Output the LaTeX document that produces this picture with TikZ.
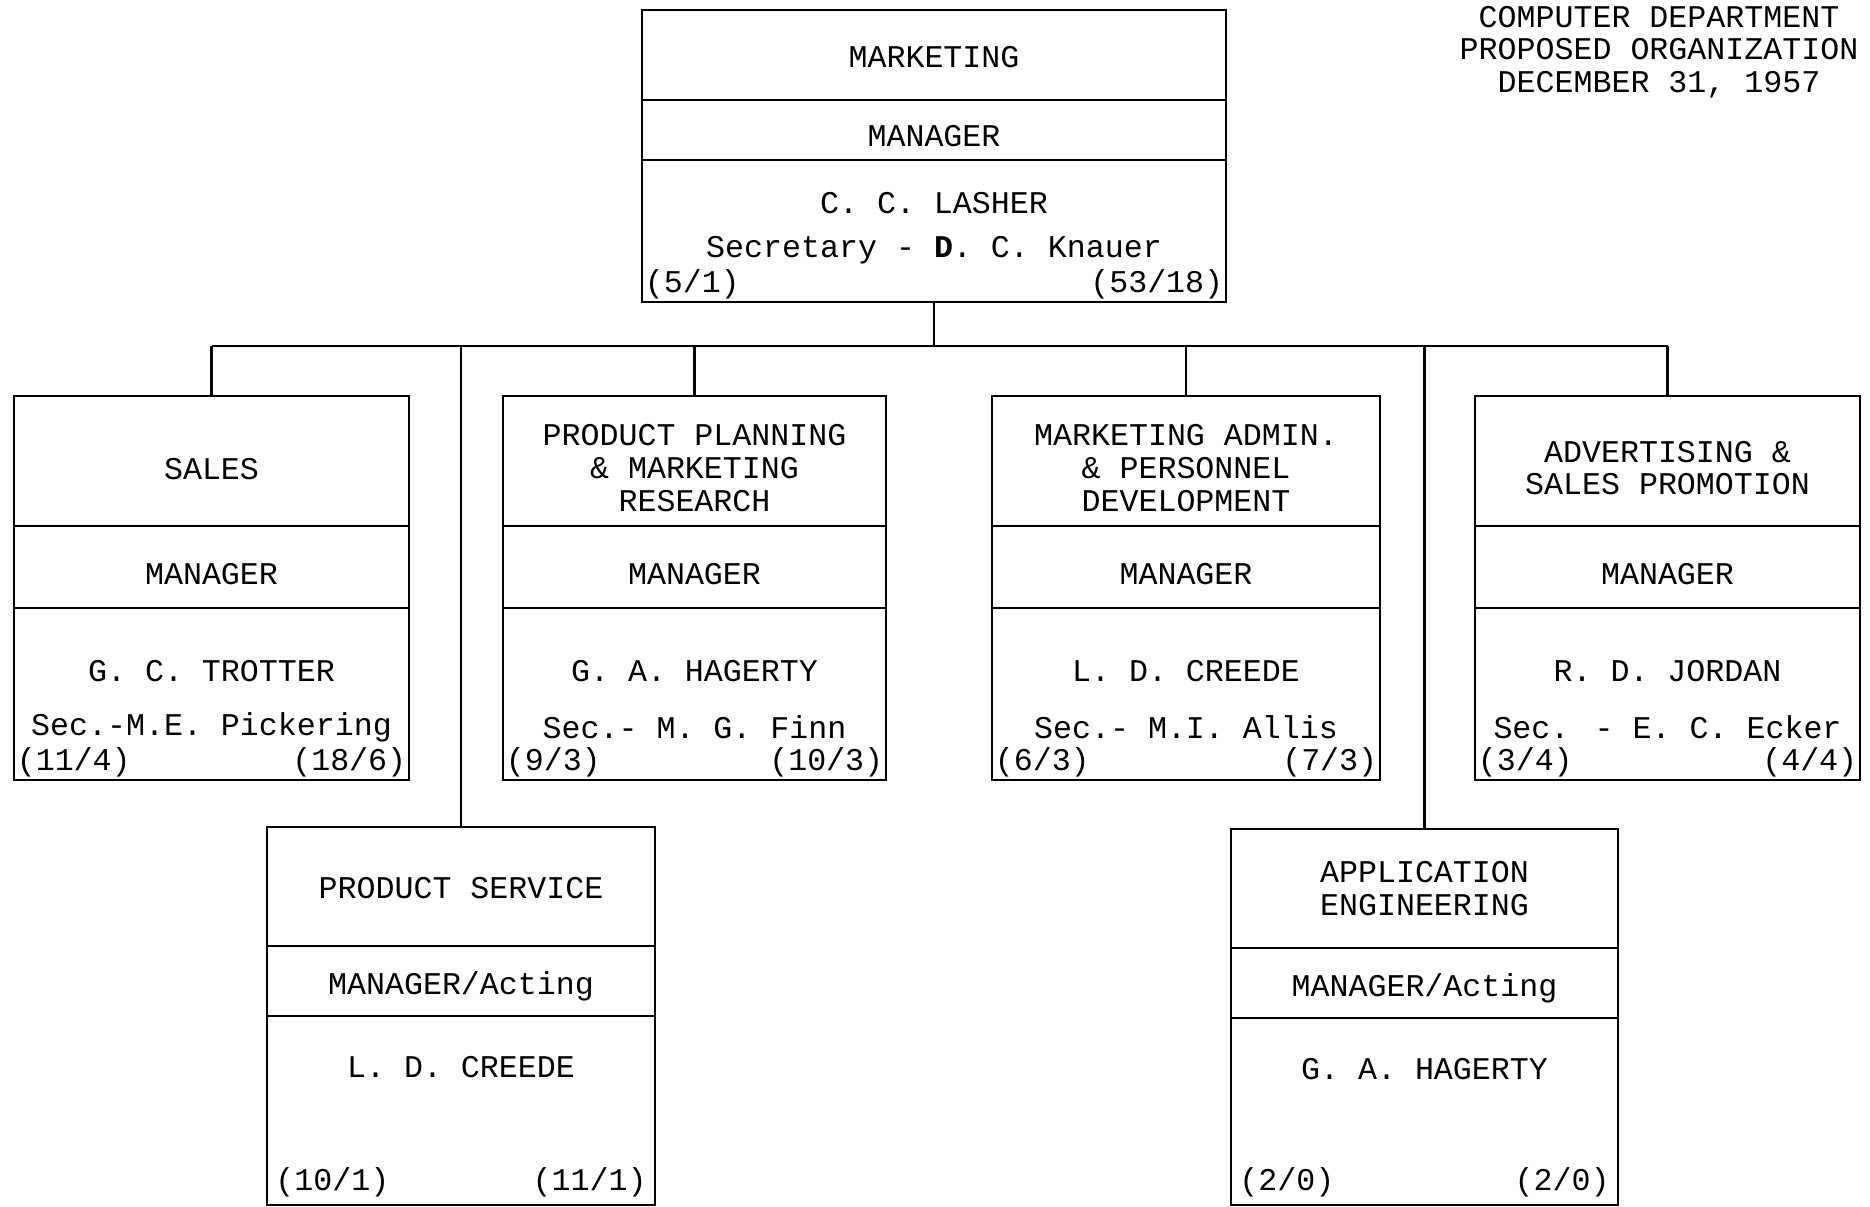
\documentclass[tikz,border=0pt]{standalone}
\usepackage{fontspec}
\setmainfont{Liberation Mono}
\usepackage{tikz}
\usetikzlibrary{positioning, calc}

\begin{document}
\begin{tikzpicture}[
    font=\fontsize{9}{9.3}\selectfont,
    part/.style={rectangle, draw=black, line width=0.7pt, inner sep=0pt, outer sep=0pt, anchor=north west},
    tx/.style={align=center},
    count/.style={inner sep=0.6pt},
    link/.style={line width=0.7pt}
]
\useasboundingbox (0,0) rectangle (18.70,-12.06);

% Title
\node[align=center] (title) at (16.59,-0.52) {COMPUTER DEPARTMENT\\PROPOSED ORGANIZATION\\DECEMBER 31, 1957};

% Marketing (top)
\node[part, minimum width=5.84cm, minimum height=0.90cm] (mktA) at (6.42,-0.10) {};
\node[part, minimum width=5.84cm, minimum height=0.60cm, below=0pt of mktA] (mktB) {};
\node[part, minimum width=5.84cm, minimum height=1.42cm, below=0pt of mktB] (mktC) {};
\node[tx] (mktT) at ([yshift=-0.02cm]mktA.center) {MARKETING};
\node[tx] (mktM) at ([yshift=-0.065cm]mktB.center) {MANAGER};
\node (mktN) at ([yshift=-0.43cm]mktC.north) {C. C. LASHER};
\node (mktS) at ([yshift=-0.90cm]mktC.north) {Secretary - {\bfseries D}. C. Knauer};
\node[count, anchor=south west] (mktL) at (mktC.south west) {(5/1)};
\node[count, anchor=south east] (mktR) at (mktC.south east) {(53/18)};

% Sales
\node[part, minimum width=3.95cm, minimum height=1.30cm] (salA) at (0.14,-3.96) {};
\node[part, minimum width=3.95cm, minimum height=0.82cm, below=0pt of salA] (salB) {};
\node[part, minimum width=3.95cm, minimum height=1.72cm, below=0pt of salB] (salC) {};
\node[tx] (salT) at ([yshift=-0.08cm]salA.center) {SALES};
\node[tx] (salM) at ([yshift=-0.07cm]salB.center) {MANAGER};
\node (salN) at ([yshift=-0.63cm]salC.north) {G. C. TROTTER};
\node (salS) at ([yshift=-1.19cm]salC.north) {Sec.-M.E. Pickering};
\node[count, anchor=south west] (salL) at (salC.south west) {(11/4)};
\node[count, anchor=south east] (salR) at (salC.south east) {(18/6)};

% Product planning
\node[part, minimum width=3.83cm, minimum height=1.30cm] (ppA) at (5.03,-3.96) {};
\node[part, minimum width=3.83cm, minimum height=0.82cm, below=0pt of ppA] (ppB) {};
\node[part, minimum width=3.83cm, minimum height=1.72cm, below=0pt of ppB] (ppC) {};
\node[tx] (ppT) at ([yshift=-0.07cm]ppA.center) {PRODUCT PLANNING\\\& MARKETING\\RESEARCH};
\node[tx] (ppM) at ([yshift=-0.07cm]ppB.center) {MANAGER};
\node (ppN) at ([yshift=-0.63cm]ppC.north) {G. A. HAGERTY};
\node (ppS) at ([yshift=-1.19cm]ppC.north) {Sec.- M. G. Finn};
\node[count, anchor=south west] (ppL) at (ppC.south west) {(9/3)};
\node[count, anchor=south east] (ppR) at (ppC.south east) {(10/3)};

% Marketing admin
\node[part, minimum width=3.88cm, minimum height=1.30cm] (maA) at (9.92,-3.96) {};
\node[part, minimum width=3.88cm, minimum height=0.82cm, below=0pt of maA] (maB) {};
\node[part, minimum width=3.88cm, minimum height=1.72cm, below=0pt of maB] (maC) {};
\node[tx] (maT) at ([yshift=-0.07cm]maA.center) {MARKETING ADMIN.\\\& PERSONNEL\\DEVELOPMENT};
\node[tx] (maM) at ([yshift=-0.07cm]maB.center) {MANAGER};
\node (maN) at ([yshift=-0.63cm]maC.north) {L. D. CREEDE};
\node (maS) at ([yshift=-1.19cm]maC.north) {Sec.- M.I. Allis};
\node[count, anchor=south west] (maL) at (maC.south west) {(6/3)};
\node[count, anchor=south east] (maR) at (maC.south east) {(7/3)};

% Advertising
\node[part, minimum width=3.85cm, minimum height=1.30cm] (adA) at (14.75,-3.96) {};
\node[part, minimum width=3.85cm, minimum height=0.82cm, below=0pt of adA] (adB) {};
\node[part, minimum width=3.85cm, minimum height=1.72cm, below=0pt of adB] (adC) {};
\node[tx] (adT) at ([yshift=-0.07cm]adA.center) {ADVERTISING \&\\SALES PROMOTION};
\node[tx] (adM) at ([yshift=-0.07cm]adB.center) {MANAGER};
\node (adN) at ([yshift=-0.63cm]adC.north) {R. D. JORDAN};
\node (adS) at ([yshift=-1.19cm]adC.north) {Sec. - E. C. Ecker};
\node[count, anchor=south west] (adL) at (adC.south west) {(3/4)};
\node[count, anchor=south east] (adR) at (adC.south east) {(4/4)};

% Product service
\node[part, minimum width=3.88cm, minimum height=1.19cm] (psA) at (2.67,-8.27) {};
\node[part, minimum width=3.88cm, minimum height=0.70cm, below=0pt of psA] (psB) {};
\node[part, minimum width=3.88cm, minimum height=1.89cm, below=0pt of psB] (psC) {};
\node[tx] (psT) at ([yshift=-0.02cm]psA.center) {PRODUCT SERVICE};
\node[tx] (psM) at ([yshift=-0.05cm]psB.center) {MANAGER/Acting};
\node (psN) at ([yshift=-0.51cm]psC.north) {L. D. CREEDE};
\node[count, anchor=south west, inner sep=2.2pt] (psL) at (psC.south west) {(10/1)};
\node[count, anchor=south east, inner sep=2.2pt] (psR) at (psC.south east) {(11/1)};

% Application engineering
\node[part, minimum width=3.87cm, minimum height=1.19cm] (aeA) at (12.31,-8.29) {};
\node[part, minimum width=3.87cm, minimum height=0.70cm, below=0pt of aeA] (aeB) {};
\node[part, minimum width=3.87cm, minimum height=1.87cm, below=0pt of aeB] (aeC) {};
\node[tx] (aeT) at (aeA.center) {APPLICATION\\ENGINEERING};
\node[tx] (aeM) at ([yshift=-0.05cm]aeB.center) {MANAGER/Acting};
\node (aeN) at ([yshift=-0.51cm]aeC.north) {G. A. HAGERTY};
\node[count, anchor=south west, inner sep=2.2pt] (aeL) at (aeC.south west) {(2/0)};
\node[count, anchor=south east, inner sep=2.2pt] (aeR) at (aeC.south east) {(2/0)};

% Connecting lines
\coordinate (bus) at (9.34,-3.46);
\draw[link] (mktC.south) -- (mktC.south |- bus);
\draw[link] (salA.north |- bus) -- (adA.north |- bus);
\draw[link] (salA.north |- bus) -- (salA.north);
\draw[link] (ppA.north |- bus) -- (ppA.north);
\draw[link] (maA.north |- bus) -- (maA.north);
\draw[link] (adA.north |- bus) -- (adA.north);
\draw[link] (psA.north |- bus) -- (psA.north);
\draw[link] (aeA.north |- bus) -- (aeA.north);

\end{tikzpicture}
\end{document}
